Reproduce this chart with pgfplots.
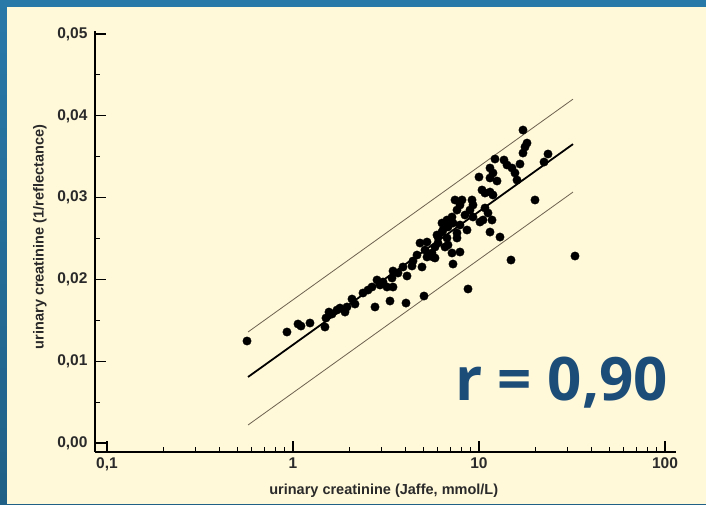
\documentclass[border=0pt]{standalone}
\usepackage{pgfplots}
\pgfplotsset{compat=1.18}
\usepackage{fontspec}
\setmainfont{Liberation Sans}
\newfontfamily\rfont{Open Sans}
\definecolor{bgblue}{HTML}{2878A8}
\definecolor{cream}{HTML}{FFF8D9}
\definecolor{navy}{HTML}{1C4D78}
\definecolor{band}{HTML}{6E6250}
\definecolor{txt}{HTML}{2A2A2A}
\pgfplotstableread{
x y
0.566 0.01247
0.928 0.01357
1.064 0.01455
1.104 0.01430
1.234 0.01467
1.486 0.01418
1.504 0.01528
1.561 0.01601
1.621 0.01577
1.724 0.01626
1.789 0.01650
1.904 0.01601
1.951 0.01663
2.076 0.01760
2.154 0.01699
2.378 0.01834
2.530 0.01870
2.659 0.01907
2.760 0.01663
2.829 0.01993
2.936 0.01932
3.047 0.01968
3.202 0.01907
3.323 0.01736
3.407 0.02017
3.449 0.01907
3.449 0.02103
3.669 0.02078
4.051 0.01711
4.102 0.02042
3.903 0.02152
4.364 0.02164
4.418 0.02225
4.642 0.02298
4.818 0.02445
4.939 0.02152
5.062 0.01797
5.125 0.02359
5.254 0.02457
5.254 0.02274
5.657 0.02274
5.587 0.02323
5.799 0.02262
5.799 0.02396
5.945 0.02543
6.019 0.02445
6.019 0.02518
6.325 0.02579
6.325 0.02689
6.404 0.02604
6.565 0.02665
6.730 0.02726
6.565 0.02396
6.730 0.02506
6.813 0.02421
6.813 0.02641
7.159 0.02763
7.159 0.02323
7.248 0.02689
7.248 0.02188
7.430 0.02971
7.616 0.02848
7.616 0.02567
7.616 0.02506
7.904 0.02910
7.904 0.02335
7.904 0.02665
8.103 0.02971
8.410 0.02787
8.622 0.02604
8.730 0.01883
8.945 0.02848
9.171 0.02971
9.285 0.02910
9.285 0.02763
10.00 0.03252
10.12 0.02702
10.38 0.03093
10.51 0.02726
10.77 0.03056
10.77 0.02873
11.18 0.02812
11.46 0.03362
11.46 0.03240
11.46 0.03068
11.46 0.02579
11.75 0.02726
11.89 0.03301
11.89 0.03032
12.19 0.03472
12.50 0.03203
12.97 0.02518
13.63 0.03460
14.14 0.03399
14.86 0.02237
15.05 0.03362
15.61 0.03301
16.01 0.03215
16.61 0.03411
17.24 0.03826
18.12 0.03667
17.68 0.03619
17.24 0.03545
20.00 0.02971
22.37 0.03435
23.50 0.03533
32.82 0.02286
}\pts
\begin{document}
\begin{tikzpicture}[x=1pt,y=1pt]
\useasboundingbox (0,0) rectangle (706,504);
\shade[top color=bgblue, bottom color=bgblue!80!black] (0,0) rectangle (706,504);
\fill[cream] (7,0) rectangle (706,497);
\begin{axis}[
  at={(95pt,52pt)}, anchor=south west,
  scale only axis, width=581pt, height=421pt,
  xmode=log, log basis x=10,
  xmin=0.0862, xmax=114.6,
  ymin=-0.0011, ymax=0.05037,
  scaled y ticks=false,
  axis lines*=left,
  axis line style={-, line width=1.6pt, black},
  tick align=inside,
  major tick length=11pt, minor tick length=5.5pt,
  every tick/.style={black, line width=1.3pt},
  every minor tick/.style={black, line width=0.9pt},
  xtick={0.1,1,10,100},
  xticklabels={{0,1},1,10,100},
  minor xtick={0.2,0.3,0.4,0.5,0.6,0.7,0.8,0.9,2,3,4,5,6,7,8,9,20,30,40,50,60,70,80,90},
  ytick={0,0.01,0.02,0.03,0.04,0.05},
  yticklabels={{0,00},{0,01},{0,02},{0,03},{0,04},{0,05}},
  minor ytick={0.005,0.015,0.025,0.035,0.045},
  tick label style={font=\fontsize{15.5}{18}\selectfont\bfseries, text=txt},
  xticklabel style={yshift=-2pt},
  yticklabel style={xshift=-4pt},
  xlabel={urinary creatinine (Jaffe, mmol/L)},
  ylabel={urinary creatinine (1/reflectance)},
  every axis x label/.style={at={(axis description cs:0.497,-0.0926)}, anchor=center, font=\fontsize{14.5}{17}\selectfont\bfseries, text=txt},
  every axis y label/.style={at={(axis description cs:-0.0947,0.5107)}, anchor=center, rotate=90, font=\fontsize{14.5}{17}\selectfont\bfseries, text=txt},
  clip=false,
]
\addplot[band, line width=0.8pt] coordinates {(0.573,0.01357) (32.02,0.04204)};
\addplot[band, line width=0.8pt] coordinates {(0.573,0.00220) (32.02,0.03068)};
\addplot[black, line width=1.8pt] coordinates {(0.573,0.00807) (32.02,0.03654)};
\addplot[only marks, mark=*, mark size=4.2pt, black] table[x=x,y=y] {\pts};
\end{axis}
\node[anchor=base west, text=navy, font=\rfont\bfseries\fontsize{60}{70}\selectfont, inner sep=0pt] at (455,104) {r = 0,90};
\end{tikzpicture}
\end{document}
